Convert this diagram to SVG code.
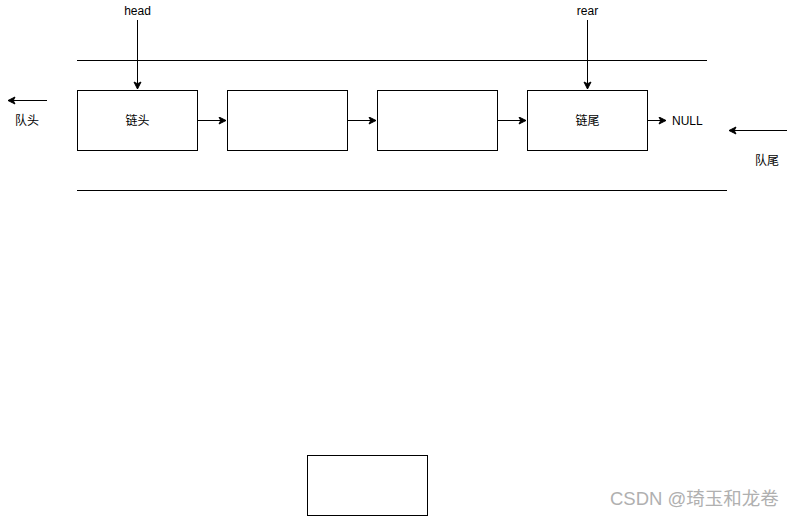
<svg xmlns="http://www.w3.org/2000/svg" width="797" height="517" viewBox="0 0 797 517">
<style>
.box{fill:#fff;stroke:#000;stroke-width:1}
.ln{stroke:#000;stroke-width:1;fill:none}
.t{font-family:"Liberation Sans","Noto Sans CJK SC",sans-serif;font-size:12px;fill:#000}
.wm{font-family:"Liberation Sans","Noto Sans CJK SC",sans-serif;font-size:18.5px;fill:#b0b0b0}
</style>
<defs>
<marker id="ah" markerWidth="10" markerHeight="10" refX="8" refY="4" orient="auto" markerUnits="userSpaceOnUse">
<path d="M1,0.5 L8,4 L1,7.5 L2.75,4 Z" fill="#000" stroke="#000" stroke-width="1"/>
</marker>
</defs>
<rect width="797" height="517" fill="#fff"/>
<g id="connectors">
<line class="ln" x1="77" y1="60.5" x2="707" y2="60.5"/>
<line class="ln" x1="77" y1="190.5" x2="727" y2="190.5"/>
<line class="ln" x1="137.5" y1="20" x2="137.5" y2="89" marker-end="url(#ah)"/>
<line class="ln" x1="587.5" y1="20" x2="587.5" y2="89" marker-end="url(#ah)"/>
<line class="ln" x1="197.5" y1="120.5" x2="226" y2="120.5" marker-end="url(#ah)"/>
<line class="ln" x1="347.5" y1="120.5" x2="376" y2="120.5" marker-end="url(#ah)"/>
<line class="ln" x1="497.5" y1="120.5" x2="526" y2="120.5" marker-end="url(#ah)"/>
<line class="ln" x1="647.5" y1="120.5" x2="666" y2="120.5" marker-end="url(#ah)"/>
<line class="ln" x1="47" y1="100.5" x2="8" y2="100.5" marker-end="url(#ah)"/>
<line class="ln" x1="787" y1="130.5" x2="729" y2="130.5" marker-end="url(#ah)"/>
</g>
<g id="head-label"><text class="t" x="137.5" y="15" text-anchor="middle">head</text></g>
<g id="rear-label"><text class="t" x="587.5" y="15" text-anchor="middle">rear</text></g>
<g id="node1"><rect class="box" x="77.5" y="90.5" width="120" height="60"/><text class="t" x="137.5" y="124.5" text-anchor="middle">链头</text></g>
<g id="node2"><rect class="box" x="227.5" y="90.5" width="120" height="60"/></g>
<g id="node3"><rect class="box" x="377.5" y="90.5" width="120" height="60"/></g>
<g id="node4"><rect class="box" x="527.5" y="90.5" width="120" height="60"/><text class="t" x="587.5" y="124.5" text-anchor="middle">链尾</text></g>
<g id="null-label"><text class="t" x="672" y="124.5">NULL</text></g>
<g id="queue-head"><text class="t" x="27" y="124.5" text-anchor="middle">队头</text></g>
<g id="queue-tail"><text class="t" x="767" y="164.5" text-anchor="middle">队尾</text></g>
<g id="node5"><rect class="box" x="307.5" y="455.5" width="120" height="60"/></g>
<g id="watermark"><text class="wm" x="610" y="504.5">CSDN @琦玉和龙卷</text></g>
</svg>
